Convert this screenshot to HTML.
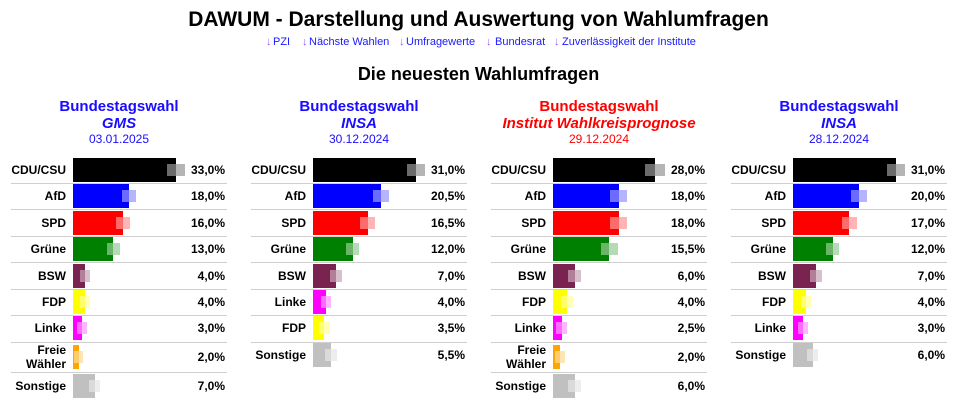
<!DOCTYPE html>
<html><head><meta charset="utf-8">
<style>
*{margin:0;padding:0;box-sizing:border-box}
html,body{width:962px;height:400px;overflow:hidden;background:#fff;font-family:"Liberation Sans",Arial,sans-serif;color:#000}
.t{position:absolute;left:0;width:957px;text-align:center;white-space:nowrap}
.ln{position:absolute;top:36px;font-size:11px;line-height:13px;color:#1a1aff;white-space:nowrap}
.ar{position:absolute;top:36px;font-size:11px;line-height:13px;color:#9955ff}
.c{position:absolute;top:0;width:240px;height:400px}
.h{position:absolute;left:0;top:97.7px;width:238px;text-align:center;white-space:nowrap}
.h div{font-weight:bold;font-size:15px;line-height:17px}
.h .i{font-style:italic}
.h .d{font-weight:normal;font-size:12px;line-height:14px}
.lb{position:absolute;left:0;width:66px;height:24px;text-align:right;font-weight:bold;font-size:12px;line-height:24px;white-space:nowrap}
.lb2{line-height:14px;height:28px}
.v{position:absolute;left:150px;width:75px;height:24px;text-align:right;font-weight:bold;font-size:12px;line-height:24px}
.b{position:absolute;left:73px;height:24px;overflow:hidden}
.b i{position:absolute;top:6px;height:12px;background:rgba(255,255,255,.42)}
.m{position:absolute;height:12px;opacity:.29}
.s{position:absolute;left:11px;width:216px;height:1px;background:#cfcfcf}
</style></head><body>

<div class="t" style="top:7.7px;font-size:21px;line-height:24px;font-weight:bold">DAWUM - Darstellung und Auswertung von Wahlumfragen</div>

<span class="ar" style="left:266px">↓</span><span class="ln" style="left:273px">PZI</span>
<span class="ar" style="left:302px">↓</span><span class="ln" style="left:309px">Nächste Wahlen</span>
<span class="ar" style="left:399px">↓</span><span class="ln" style="left:406px">Umfragewerte</span>
<span class="ar" style="left:486px">↓</span><span class="ln" style="left:495px">Bundesrat</span>
<span class="ar" style="left:554px">↓</span><span class="ln" style="left:562px">Zuverlässigkeit der Institute</span>

<div class="t" style="top:64px;font-size:18px;line-height:20px;font-weight:bold">Die neuesten Wahlumfragen</div>

<!-- Column 1 -->
<div class="c" style="left:0">
<div class="h" style="color:#1a0dff"><div>Bundestagswahl</div><div class="i">GMS</div><div class="d">03.01.2025</div></div>

<div class="lb" style="top:158px">CDU/CSU</div>
<div class="m" style="top:164px;left:167px;width:18px;background:#000"></div>
<div class="b" style="top:158px;width:103px;background:#000"><i style="left:94px;width:18px"></i></div>
<div class="v" style="top:158px">33,0%</div>
<div class="s" style="top:183px"></div>

<div class="lb" style="top:184.4px">AfD</div>
<div class="m" style="top:190.4px;left:122px;width:14px;background:#00f"></div>
<div class="b" style="top:184.4px;width:56px;background:#00f"><i style="left:49px;width:14px"></i></div>
<div class="v" style="top:184.4px">18,0%</div>
<div class="s" style="top:209.4px"></div>

<div class="lb" style="top:210.8px">SPD</div>
<div class="m" style="top:216.8px;left:116px;width:14px;background:#f00"></div>
<div class="b" style="top:210.8px;width:50px;background:#f00"><i style="left:43px;width:14px"></i></div>
<div class="v" style="top:210.8px">16,0%</div>
<div class="s" style="top:235.8px"></div>

<div class="lb" style="top:237.2px">Grüne</div>
<div class="m" style="top:243.2px;left:107px;width:13px;background:#008000"></div>
<div class="b" style="top:237.2px;width:40px;background:#008000"><i style="left:34px;width:13px"></i></div>
<div class="v" style="top:237.2px">13,0%</div>
<div class="s" style="top:262.2px"></div>

<div class="lb" style="top:263.6px">BSW</div>
<div class="m" style="top:269.6px;left:80px;width:10px;background:#7a2350"></div>
<div class="b" style="top:263.6px;width:12px;background:#7a2350"><i style="left:7px;width:10px"></i></div>
<div class="v" style="top:263.6px">4,0%</div>
<div class="s" style="top:288.6px"></div>

<div class="lb" style="top:290px">FDP</div>
<div class="m" style="top:296px;left:80px;width:10px;background:#ff0"></div>
<div class="b" style="top:290px;width:12px;background:#ff0"><i style="left:7px;width:10px"></i></div>
<div class="v" style="top:290px">4,0%</div>
<div class="s" style="top:315px"></div>

<div class="lb" style="top:316.4px">Linke</div>
<div class="m" style="top:322.4px;left:77px;width:10px;background:#f0f"></div>
<div class="b" style="top:316.4px;width:9px;background:#f0f"><i style="left:4px;width:10px"></i></div>
<div class="v" style="top:316.4px">3,0%</div>
<div class="s" style="top:342px"></div>

<div class="lb lb2" style="top:343px">Freie<br>Wähler</div>
<div class="m" style="top:351px;left:74px;width:9px;background:#ffa500"></div>
<div class="b" style="top:345px;width:6px;background:#ffa500"><i style="left:1px;width:9px"></i></div>
<div class="v" style="top:345px">2,0%</div>
<div class="s" style="top:372px"></div>

<div class="lb" style="top:374px">Sonstige</div>
<div class="m" style="top:380px;left:89px;width:11px;background:#c0c0c0"></div>
<div class="b" style="top:374px;width:22px;background:#c0c0c0"><i style="left:16px;width:11px"></i></div>
<div class="v" style="top:374px">7,0%</div>
</div>

<!-- Column 2 -->
<div class="c" style="left:240px">
<div class="h" style="color:#1a0dff"><div>Bundestagswahl</div><div class="i">INSA</div><div class="d">30.12.2024</div></div>

<div class="lb" style="top:158px">CDU/CSU</div>
<div class="m" style="top:164px;left:167px;width:18px;background:#000"></div>
<div class="b" style="top:158px;width:103px;background:#000"><i style="left:94px;width:18px"></i></div>
<div class="v" style="top:158px">31,0%</div>
<div class="s" style="top:183px"></div>

<div class="lb" style="top:184.4px">AfD</div>
<div class="m" style="top:190.4px;left:133px;width:16px;background:#00f"></div>
<div class="b" style="top:184.4px;width:68px;background:#00f"><i style="left:60px;width:16px"></i></div>
<div class="v" style="top:184.4px">20,5%</div>
<div class="s" style="top:209.4px"></div>

<div class="lb" style="top:210.8px">SPD</div>
<div class="m" style="top:216.8px;left:120px;width:15px;background:#f00"></div>
<div class="b" style="top:210.8px;width:55px;background:#f00"><i style="left:47px;width:15px"></i></div>
<div class="v" style="top:210.8px">16,5%</div>
<div class="s" style="top:235.8px"></div>

<div class="lb" style="top:237.2px">Grüne</div>
<div class="m" style="top:243.2px;left:106px;width:13px;background:#008000"></div>
<div class="b" style="top:237.2px;width:40px;background:#008000"><i style="left:33px;width:13px"></i></div>
<div class="v" style="top:237.2px">12,0%</div>
<div class="s" style="top:262.2px"></div>

<div class="lb" style="top:263.6px">BSW</div>
<div class="m" style="top:269.6px;left:90px;width:12px;background:#7a2350"></div>
<div class="b" style="top:263.6px;width:23px;background:#7a2350"><i style="left:17px;width:12px"></i></div>
<div class="v" style="top:263.6px">7,0%</div>
<div class="s" style="top:288.6px"></div>

<div class="lb" style="top:290px">Linke</div>
<div class="m" style="top:296px;left:81px;width:10px;background:#f0f"></div>
<div class="b" style="top:290px;width:13px;background:#f0f"><i style="left:8px;width:10px"></i></div>
<div class="v" style="top:290px">4,0%</div>
<div class="s" style="top:315px"></div>

<div class="lb" style="top:316.4px">FDP</div>
<div class="m" style="top:322.4px;left:79px;width:11px;background:#ff0"></div>
<div class="b" style="top:316.4px;width:11px;background:#ff0"><i style="left:6px;width:11px"></i></div>
<div class="v" style="top:316.4px">3,5%</div>
<div class="s" style="top:341.6px"></div>

<div class="lb" style="top:342.8px">Sonstige</div>
<div class="m" style="top:348.8px;left:85px;width:12px;background:#c0c0c0"></div>
<div class="b" style="top:342.8px;width:18px;background:#c0c0c0"><i style="left:12px;width:12px"></i></div>
<div class="v" style="top:342.8px">5,5%</div>
</div>

<!-- Column 3 -->
<div class="c" style="left:480px">
<div class="h" style="color:#ff0000"><div>Bundestagswahl</div><div class="i">Institut Wahlkreisprognose</div><div class="d">29.12.2024</div></div>

<div class="lb" style="top:158px">CDU/CSU</div>
<div class="m" style="top:164px;left:165px;width:20px;background:#000"></div>
<div class="b" style="top:158px;width:102px;background:#000"><i style="left:92px;width:20px"></i></div>
<div class="v" style="top:158px">28,0%</div>
<div class="s" style="top:183px"></div>

<div class="lb" style="top:184.4px">AfD</div>
<div class="m" style="top:190.4px;left:130px;width:17px;background:#00f"></div>
<div class="b" style="top:184.4px;width:66px;background:#00f"><i style="left:57px;width:17px"></i></div>
<div class="v" style="top:184.4px">18,0%</div>
<div class="s" style="top:209.4px"></div>

<div class="lb" style="top:210.8px">SPD</div>
<div class="m" style="top:216.8px;left:130px;width:17px;background:#f00"></div>
<div class="b" style="top:210.8px;width:66px;background:#f00"><i style="left:57px;width:17px"></i></div>
<div class="v" style="top:210.8px">18,0%</div>
<div class="s" style="top:235.8px"></div>

<div class="lb" style="top:237.2px">Grüne</div>
<div class="m" style="top:243.2px;left:121px;width:17px;background:#008000"></div>
<div class="b" style="top:237.2px;width:56px;background:#008000"><i style="left:48px;width:17px"></i></div>
<div class="v" style="top:237.2px">15,5%</div>
<div class="s" style="top:262.2px"></div>

<div class="lb" style="top:263.6px">BSW</div>
<div class="m" style="top:269.6px;left:88px;width:13px;background:#7a2350"></div>
<div class="b" style="top:263.6px;width:22px;background:#7a2350"><i style="left:15px;width:13px"></i></div>
<div class="v" style="top:263.6px">6,0%</div>
<div class="s" style="top:288.6px"></div>

<div class="lb" style="top:290px">FDP</div>
<div class="m" style="top:296px;left:81px;width:12px;background:#ff0"></div>
<div class="b" style="top:290px;width:14px;background:#ff0"><i style="left:8px;width:12px"></i></div>
<div class="v" style="top:290px">4,0%</div>
<div class="s" style="top:315px"></div>

<div class="lb" style="top:316.4px">Linke</div>
<div class="m" style="top:322.4px;left:76px;width:11px;background:#f0f"></div>
<div class="b" style="top:316.4px;width:9px;background:#f0f"><i style="left:3px;width:11px"></i></div>
<div class="v" style="top:316.4px">2,5%</div>
<div class="s" style="top:342px"></div>

<div class="lb lb2" style="top:343px">Freie<br>Wähler</div>
<div class="m" style="top:351px;left:75px;width:10px;background:#ffa500"></div>
<div class="b" style="top:345px;width:7px;background:#ffa500"><i style="left:2px;width:10px"></i></div>
<div class="v" style="top:345px">2,0%</div>
<div class="s" style="top:372px"></div>

<div class="lb" style="top:374px">Sonstige</div>
<div class="m" style="top:380px;left:88px;width:13px;background:#c0c0c0"></div>
<div class="b" style="top:374px;width:22px;background:#c0c0c0"><i style="left:15px;width:13px"></i></div>
<div class="v" style="top:374px">6,0%</div>
</div>

<!-- Column 4 -->
<div class="c" style="left:720px">
<div class="h" style="color:#1a0dff"><div>Bundestagswahl</div><div class="i">INSA</div><div class="d">28.12.2024</div></div>

<div class="lb" style="top:158px">CDU/CSU</div>
<div class="m" style="top:164px;left:167px;width:18px;background:#000"></div>
<div class="b" style="top:158px;width:103px;background:#000"><i style="left:94px;width:18px"></i></div>
<div class="v" style="top:158px">31,0%</div>
<div class="s" style="top:183px"></div>

<div class="lb" style="top:184.4px">AfD</div>
<div class="m" style="top:190.4px;left:131px;width:16px;background:#00f"></div>
<div class="b" style="top:184.4px;width:66px;background:#00f"><i style="left:58px;width:16px"></i></div>
<div class="v" style="top:184.4px">20,0%</div>
<div class="s" style="top:209.4px"></div>

<div class="lb" style="top:210.8px">SPD</div>
<div class="m" style="top:216.8px;left:122px;width:15px;background:#f00"></div>
<div class="b" style="top:210.8px;width:56px;background:#f00"><i style="left:49px;width:15px"></i></div>
<div class="v" style="top:210.8px">17,0%</div>
<div class="s" style="top:235.8px"></div>

<div class="lb" style="top:237.2px">Grüne</div>
<div class="m" style="top:243.2px;left:106px;width:13px;background:#008000"></div>
<div class="b" style="top:237.2px;width:40px;background:#008000"><i style="left:33px;width:13px"></i></div>
<div class="v" style="top:237.2px">12,0%</div>
<div class="s" style="top:262.2px"></div>

<div class="lb" style="top:263.6px">BSW</div>
<div class="m" style="top:269.6px;left:90px;width:12px;background:#7a2350"></div>
<div class="b" style="top:263.6px;width:23px;background:#7a2350"><i style="left:17px;width:12px"></i></div>
<div class="v" style="top:263.6px">7,0%</div>
<div class="s" style="top:288.6px"></div>

<div class="lb" style="top:290px">FDP</div>
<div class="m" style="top:296px;left:81px;width:10px;background:#ff0"></div>
<div class="b" style="top:290px;width:13px;background:#ff0"><i style="left:8px;width:10px"></i></div>
<div class="v" style="top:290px">4,0%</div>
<div class="s" style="top:315px"></div>

<div class="lb" style="top:316.4px">Linke</div>
<div class="m" style="top:322.4px;left:78px;width:10px;background:#f0f"></div>
<div class="b" style="top:316.4px;width:10px;background:#f0f"><i style="left:5px;width:10px"></i></div>
<div class="v" style="top:316.4px">3,0%</div>
<div class="s" style="top:341.6px"></div>

<div class="lb" style="top:342.8px">Sonstige</div>
<div class="m" style="top:348.8px;left:87px;width:11px;background:#c0c0c0"></div>
<div class="b" style="top:342.8px;width:20px;background:#c0c0c0"><i style="left:14px;width:11px"></i></div>
<div class="v" style="top:342.8px">6,0%</div>
</div>

</body></html>
